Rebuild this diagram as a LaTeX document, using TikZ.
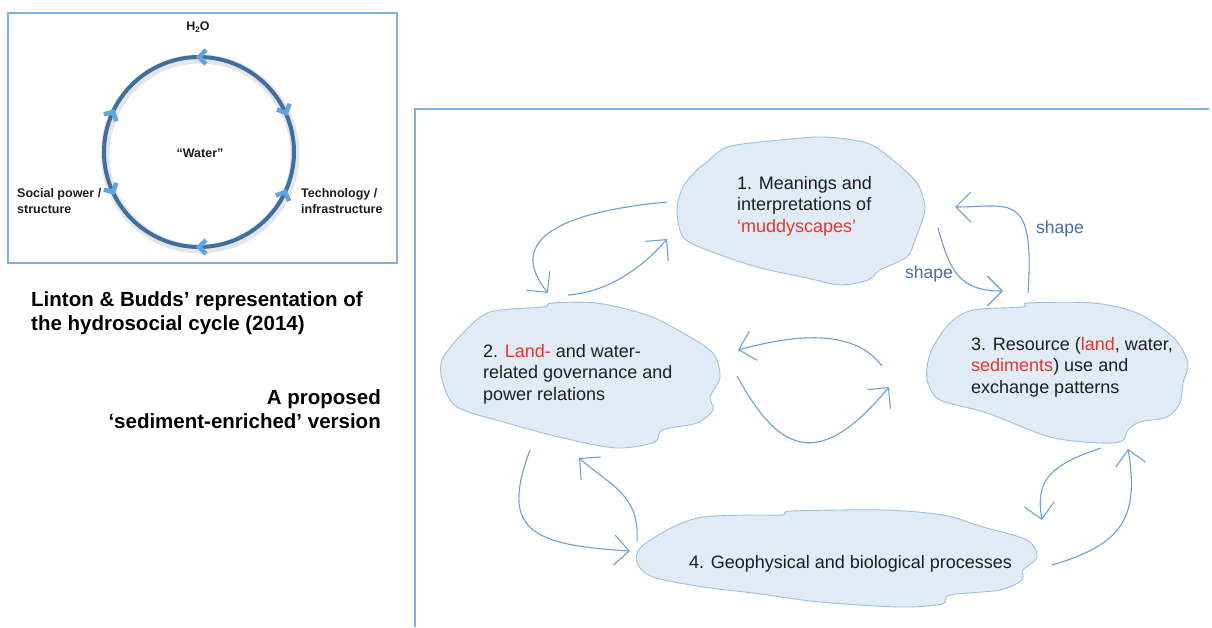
\documentclass[tikz,border=0pt]{standalone}
\usepackage{fontspec}
\setmainfont{Liberation Sans}
\usetikzlibrary{arrows.meta}
\definecolor{frameblue}{HTML}{7FB0DF}
\definecolor{cloudfill}{HTML}{E0EBF5}
\definecolor{clouddraw}{HTML}{9DBFE0}
\definecolor{arrowblue}{HTML}{6F9FD6}
\definecolor{shapeblue}{HTML}{4A6D9A}
\definecolor{mudred}{HTML}{E8352A}
\definecolor{ringblue}{HTML}{3F6F9F}
\definecolor{chevblue}{HTML}{64A3E0}
\definecolor{txt}{HTML}{1E1E1E}
\begin{document}
\begin{tikzpicture}[x=1pt,y=-1pt,
  frameline/.style={draw=frameblue,line width=1.5pt},
  cloudshape/.style={fill=cloudfill,draw=clouddraw,line width=0.9pt},
  flow/.style={draw=arrowblue,line width=1.1pt,-{Straight Barb[length=15pt,width=30pt]}},
  cloudtext/.style={font=\fontsize{18}{21.5}\selectfont,align=left,inner sep=0pt,anchor=west,text=txt},
  shapelabel/.style={font=\fontsize{17.5}{20}\selectfont,inner sep=0pt,text=shapeblue},
  smalllabel/.style={font=\bfseries\fontsize{12.5}{16.5}\selectfont,inner sep=0pt,text=txt},
  bigtext/.style={font=\bfseries\fontsize{20.5}{23.5}\selectfont,inner sep=0pt,text=black},
  chev/.style={draw=chevblue,line width=4.5pt,line join=miter,line cap=butt}
]
\useasboundingbox (0,0) rectangle (1212,627);
\fill[white] (0,0) rectangle (1212,627);

% ---------- left panel ----------
\draw[frameline] (8,13) rectangle (397,263);
\draw[black,opacity=0.10,line width=9pt] (200,154) circle (95);
\draw[ringblue,line width=4pt] (199,152) circle (95);
\draw[chev] (206,50) -- (199,57) -- (206,64);
\draw[chev] (277,109.5) -- (286,113) -- (289.7,103.8);
\draw[chev] (289.3,201.0) -- (285,192) -- (275.8,195.4);
\draw[chev] (206,240) -- (199,247) -- (206,254);
\draw[chev] (103.8,189.7) -- (113,192) -- (116.4,182.8);
\draw[chev] (116.4,121.2) -- (113,112) -- (103.8,114.3);

\node[smalllabel] (h2o) at (198,27) {H\raisebox{-2.5pt}{\fontsize{8}{8}\selectfont 2}O};
\node[smalllabel] (water) at (200,153) {“Water”};
\node[smalllabel,align=left,anchor=west] (social) at (17,201) {Social power /\\structure};
\node[smalllabel,align=left,anchor=west] (tech) at (301,201) {Technology /\\infrastructure};

\node[bigtext,align=left,anchor=west] (linton) at (31,313) {Linton \& Budds’ representation of\\the hydrosocial cycle (2014)};
\node[bigtext,align=right,anchor=east] (proposed) at (381,409) {A proposed\\‘sediment-enriched’ version};

% ---------- right panel ----------
\draw[frameline] (415,627) -- (415,109) -- (1209,109);

% cloud 1
\draw[cloudshape] plot[smooth cycle] coordinates {
 (707,162) (727,147) (770,141) (823,137) (867,143) (893,160) (917,183) (925,207)
 (920,227) (915,240) (907,257) (880,270) (868,280) (840,285) (807,278) (757,267)
 (707,250) (683,237) (677,210) (683,187) (697,170)};
% cloud 2
\draw[cloudshape] plot[smooth cycle] coordinates {
 (443,383) (442,360) (463,333) (490,312) (543,307) (552,303) (597,303) (647,315)
 (683,333) (713,353) (720,377) (710,397) (713,410) (697,423) (662,430) (655,442)
 (617,448) (563,438) (507,423) (457,407)};
% cloud 3
\draw[cloudshape] plot[smooth cycle] coordinates {
 (927,367) (933,347) (950,323) (973,310) (1023,307) (1028,303) (1093,303) (1137,313)
 (1173,337) (1188,363) (1183,383) (1180,403) (1167,417) (1140,422) (1128,430)
 (1122,441) (1100,443) (1050,437) (987,413) (940,400) (928,383)};
% cloud 4
\draw[cloudshape] plot[smooth cycle] coordinates {
 (637,563) (641,547) (673,527) (703,517) (753,515) (783,515) (792,511) (883,510)
 (943,515) (983,527) (1027,540) (1037,557) (1023,570) (1022,580) (1000,590)
 (950,595) (942,604) (900,607) (820,602) (753,593) (703,587) (653,577)};

\node[cloudtext] (c1) at (737,206) {1. Meanings and\\interpretations of\\\textcolor{mudred}{‘muddyscapes’}};
\node[cloudtext] (c2) at (483,374) {2. \textcolor{mudred}{Land-} and water-\\related governance and\\power relations};
\node[cloudtext] (c3) at (971,367) {3. Resource (\textcolor{mudred}{land}, water,\\\textcolor{mudred}{sediments}) use and\\exchange patterns};
\node[cloudtext] (c4) at (689,564) {4. Geophysical and biological processes};

% connector end points
\coordinate (a12s) at (667,202); \coordinate (a12e) at (548,293);
\coordinate (a21s) at (568,295); \coordinate (a21e) at (667,239);
\coordinate (a13s) at (938,228); \coordinate (a13e) at (1003,291);
\coordinate (a31s) at (1028,293); \coordinate (a31e) at (955,207);
\coordinate (a32s) at (882,366); \coordinate (a32e) at (738,350);
\coordinate (a23s) at (737,376); \coordinate (a23e) at (889,387);
\coordinate (a24s) at (530,450); \coordinate (a24e) at (630,551);
\coordinate (a42s) at (637,541); \coordinate (a42e) at (579,458);
\coordinate (a34s) at (1101,448); \coordinate (a34e) at (1042,520);
\coordinate (a43s) at (1052,565); \coordinate (a43e) at (1128,449);

\draw[flow] (a12s) .. controls (560,212) and (505,240) .. (a12e);
\draw[flow] (a21s) .. controls (610,292) and (645,265) .. (a21e);
\draw[flow] (a13s) .. controls (950,272) and (960,291) .. (a13e);
\draw[flow] (a31s) .. controls (1035,190) and (1010,207) .. (a31e);
\draw[flow] (a32s) .. controls (855,330) and (800,333) .. (a32e);
\draw[flow] (a23s) .. controls (780,455) and (820,470) .. (a23e);
\draw[flow] (a24s) .. controls (500,530) and (530,545) .. (a24e);
\draw[flow] (a42s) .. controls (640,495) and (610,485) .. (a42e);
\draw[flow] (a34s) .. controls (1050,465) and (1035,480) .. (a34e);
\draw[flow] (a43s) .. controls (1120,545) and (1140,520) .. (a43e);

\node[shapelabel] (shape1) at (929,274) {shape};
\node[shapelabel] (shape2) at (1060,229) {shape};
\end{tikzpicture}
\end{document}
